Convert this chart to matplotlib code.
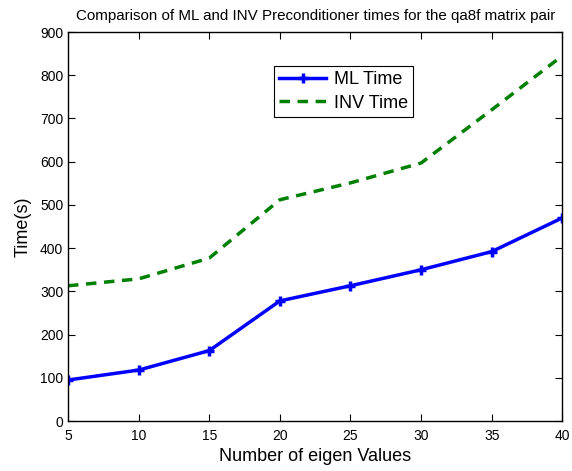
import numpy as np
import matplotlib
matplotlib.use('Agg')
import matplotlib.pyplot as plt

plt.rcParams['font.family'] = ['Liberation Sans', 'DejaVu Sans']

# number of eigen values
eig_vals = [5, 10, 15, 20, 25, 30, 35, 40]
# times in seconds
ml_time = [95, 118, 163, 278, 313, 350, 392, 470]
inv_time = [313, 329, 377, 512, 551, 597, 720, 845]

fig = plt.figure(figsize=(5.72, 4.71), dpi=100)
ax = fig.add_axes([0.119, 0.106, 0.864, 0.826])

ax.plot(eig_vals, ml_time, color='blue', lw=2.5, marker='+', ms=7, mew=2.5, label='ML Time')
ax.plot(eig_vals, inv_time, color='green', lw=2.5, ls='--', dashes=(3, 2.2), label='INV Time')

ax.set_xlim(5, 40)
ax.set_ylim(0, 900)
ax.set_xticks(np.arange(5, 41, 5))
ax.set_yticks(np.arange(0, 901, 100))
ax.tick_params(direction='in', top=True, right=True, labelsize=10, length=5, width=0.8)
ax.tick_params(axis='x', pad=6)
for s in ax.spines.values():
    s.set_linewidth(1.0)

ax.set_xlabel('Number of eigen Values', fontsize=13, labelpad=3)
ax.set_ylabel('Time(s)', fontsize=13, labelpad=6)
ax.set_title('Comparison of ML and INV Preconditioner times for the qa8f matrix pair', fontsize=10.9, pad=9)

leg = ax.legend(loc='upper left', bbox_to_anchor=(0.479, 0.860), bbox_transform=fig.transFigure,
                fontsize=13, fancybox=False, edgecolor='black', framealpha=1, borderaxespad=0,
                handlelength=2.6, borderpad=0.3, labelspacing=0.35, handletextpad=0.4)
leg.get_frame().set_linewidth(0.8)

fig.savefig('out.png', dpi=100)
